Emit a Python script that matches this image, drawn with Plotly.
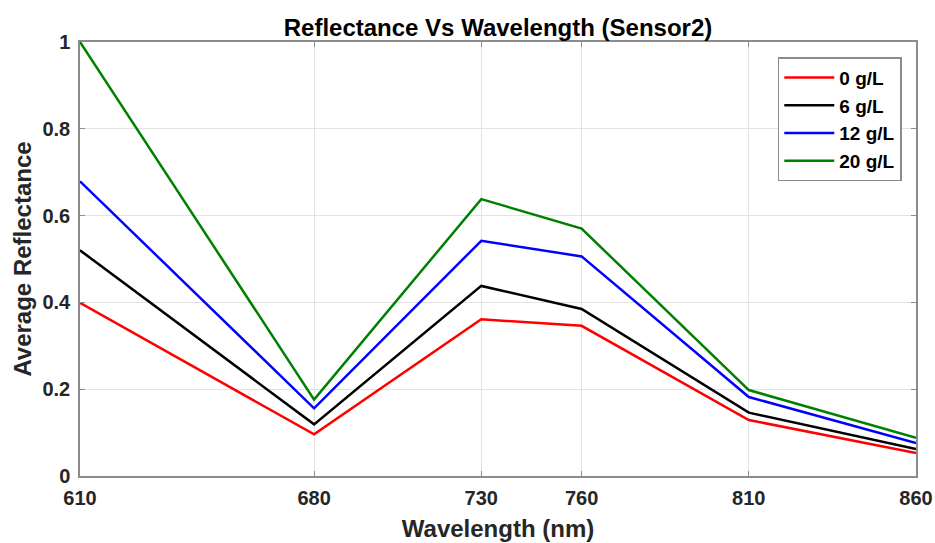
import plotly.graph_objects as go

wavelength = [610, 680, 730, 760, 810, 860]
series_names = ["0 g/L", "6 g/L", "12 g/L", "20 g/L"]
r_0 = [0.399, 0.096, 0.361, 0.346, 0.129, 0.053]
r_6 = [0.520, 0.119, 0.438, 0.385, 0.146, 0.062]
r_12 = [0.679, 0.156, 0.542, 0.506, 0.182, 0.076]
r_20 = [1.000, 0.176, 0.638, 0.570, 0.198, 0.088]
colors = ["#ff0000", "#000000", "#0000ff", "#008000"]
y_ticks = [0, 0.2, 0.4, 0.6, 0.8, 1]

FONT = "Liberation Sans, Arial, sans-serif"

fig = go.Figure()
for name, vals, c in zip(series_names, [r_0, r_6, r_12, r_20], colors):
    fig.add_trace(go.Scatter(x=wavelength, y=vals, mode="lines", name=name,
                             line=dict(color=c, width=2.5)))

axis_common = dict(
    showline=True, linecolor="#8c8c8c", linewidth=1.5, mirror="ticks",
    ticks="inside", ticklen=5, tickcolor="#8c8c8c", tickwidth=1,
    showgrid=True, gridcolor="#e3e3e3", gridwidth=1, zeroline=False,
    automargin=False,
    tickfont=dict(family=FONT, size=20, color="#262626", weight="bold"),
)

fig.update_layout(
    width=935, height=543,
    margin=dict(l=80, r=19, t=42, b=67),
    paper_bgcolor="white", plot_bgcolor="white",
    title=dict(text="<b>Reflectance Vs Wavelength (Sensor2)</b>", xref="paper", x=0.5,
               xanchor="center", yref="paper", y=1.0, yanchor="bottom",
               pad=dict(b=6),
               font=dict(family=FONT, size=24, color="#000000")),
    xaxis=dict(range=[610, 860], tickvals=wavelength, ticklabelstandoff=3, **axis_common,
               title=dict(text="<b>Wavelength (nm)</b>", standoff=12,
                          font=dict(family=FONT, size=24, color="#262626"))),
    yaxis=dict(range=[0, 1], tickvals=y_ticks, ticklabelstandoff=4, **axis_common,
               title=dict(text="<b>Average Reflectance</b>", standoff=4,
                          font=dict(family=FONT, size=24, color="#262626"))),
    legend=dict(x=0.983, y=0.965, xanchor="right", yanchor="top",
                bgcolor="white", bordercolor="#8c8c8c", borderwidth=1.5,
                font=dict(family=FONT, size=19, color="#000000", weight="bold"),
                itemwidth=50, tracegroupgap=0),
    showlegend=True,
)

fig.write_html("out.html", config={"displayModeBar": False},
               post_script="document.body.style.margin='0';")
